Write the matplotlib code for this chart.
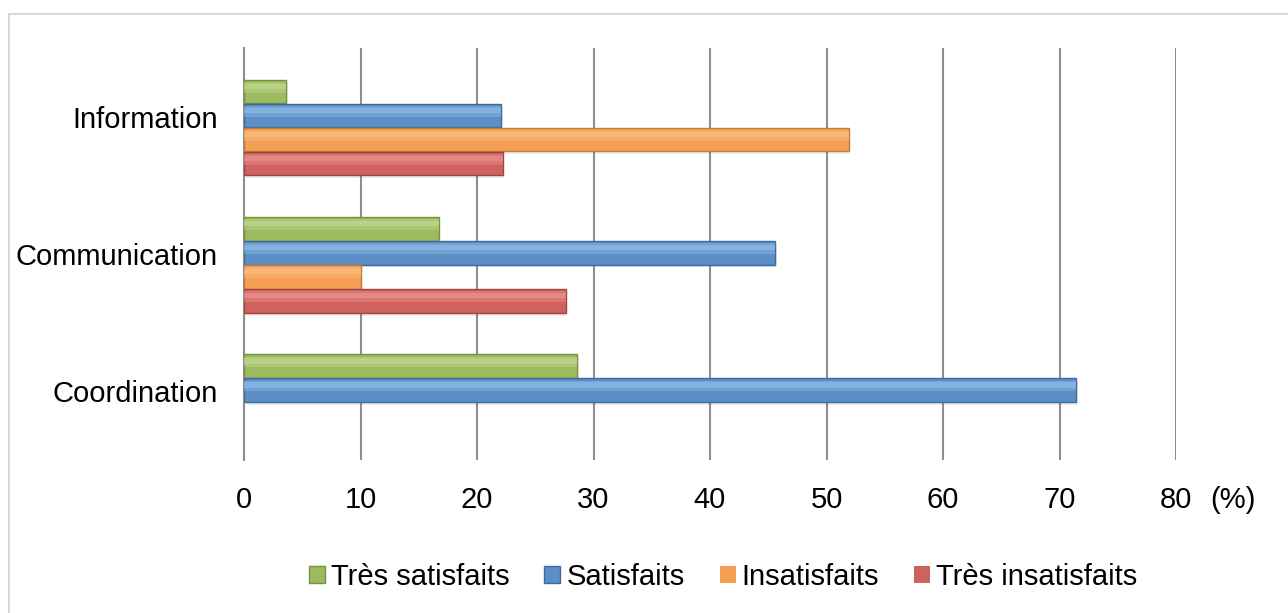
import numpy as np
import matplotlib.pyplot as plt
from matplotlib.patches import Rectangle

# données (en %)
categories = ["Coordination", "Communication", "Information"]
tres_satisfaits = [28.6, 16.7, 3.6]
satisfaits = [71.4, 45.6, 22.1]
insatisfaits = [0, 10.0, 51.9]
tres_insatisfaits = [0, 27.6, 22.2]
x_ticks = [0, 10, 20, 30, 40, 50, 60, 70, 80]

series = [
    ("Très satisfaits", tres_satisfaits, "#9dbb5e", "#c9de9c", "#76913f"),
    ("Satisfaits", satisfaits, "#5b8fc6", "#9cc6ef", "#3e6a9c"),
    ("Insatisfaits", insatisfaits, "#f59f55", "#fcc98a", "#c47a37"),
    ("Très insatisfaits", tres_insatisfaits, "#cf625e", "#f0a09c", "#9e4440"),
]


def draw_chart():
    plt.rcParams["font.family"] = ["Liberation Sans", "DejaVu Sans"]
    fig = plt.figure(figsize=(12.88, 6.13), dpi=100)
    # cadre extérieur
    fig.patches.append(Rectangle((9 / 1288, -0.01), 1.1, 1 - 14 / 613 + 0.01,
                                 transform=fig.transFigure, fill=False,
                                 edgecolor="#d0d0d0", linewidth=1.2))
    ax = fig.add_axes([244 / 1288, 1 - 460 / 613, 932 / 1288, 412 / 613])

    y = np.arange(len(categories))
    h = 0.172
    step = 0.175
    handles = []
    for k, (name, vals, col, light, dark) in enumerate(series):
        pos = y + 0.183 - k * step
        lw = [1.0 if v > 0 else 0 for v in vals]
        # ombre
        ax.barh(pos - 0.02, vals, height=h, left=0.15, color="#000000",
                alpha=0.07, linewidth=0, zorder=2)
        b = ax.barh(pos, vals, height=h, color=col, edgecolor=dark,
                    linewidth=lw, label=name, zorder=3)
        # reflet clair en haut (dégradé approximatif)
        ax.barh(pos + h * 0.18, vals, height=h * 0.45, color=light,
                alpha=0.35, linewidth=0, zorder=4)
        ax.barh(pos + h * 0.22, vals, height=h * 0.22, color=light,
                alpha=0.45, linewidth=0, zorder=4)
        handles.append(b)

    ax.set_xlim(0, 80)
    ax.set_ylim(-0.5, 2.5)
    ax.set_xticks(x_ticks)
    ax.set_xticklabels([str(v) for v in x_ticks], fontsize=21)
    ax.set_yticks(y)
    ax.set_yticklabels(categories, fontsize=21)
    ax.tick_params(axis="both", length=0)
    ax.tick_params(axis="x", pad=19)
    ax.tick_params(axis="y", pad=19)
    ax.grid(axis="x", color="#8f8f8f", linewidth=1.5, zorder=0)
    ax.set_axisbelow(True)
    for s in ["top", "right", "bottom"]:
        ax.spines[s].set_visible(False)
    ax.spines["left"].set_color("#8f8f8f")
    ax.spines["left"].set_linewidth(1.5)

    fig.text(1233 / 1288, 1 - 500 / 613, "(%)", fontsize=21,
             ha="center", va="center")

    fig.legend(handles=handles, loc="center", ncol=4,
               bbox_to_anchor=(723 / 1288, 1 - 577 / 613), frameon=False,
               fontsize=21, handlelength=0.55, handleheight=0.55,
               handletextpad=0.2, columnspacing=1.2)

    fig.savefig("out.png", dpi=100)


if __name__ == "__main__":
    draw_chart()
